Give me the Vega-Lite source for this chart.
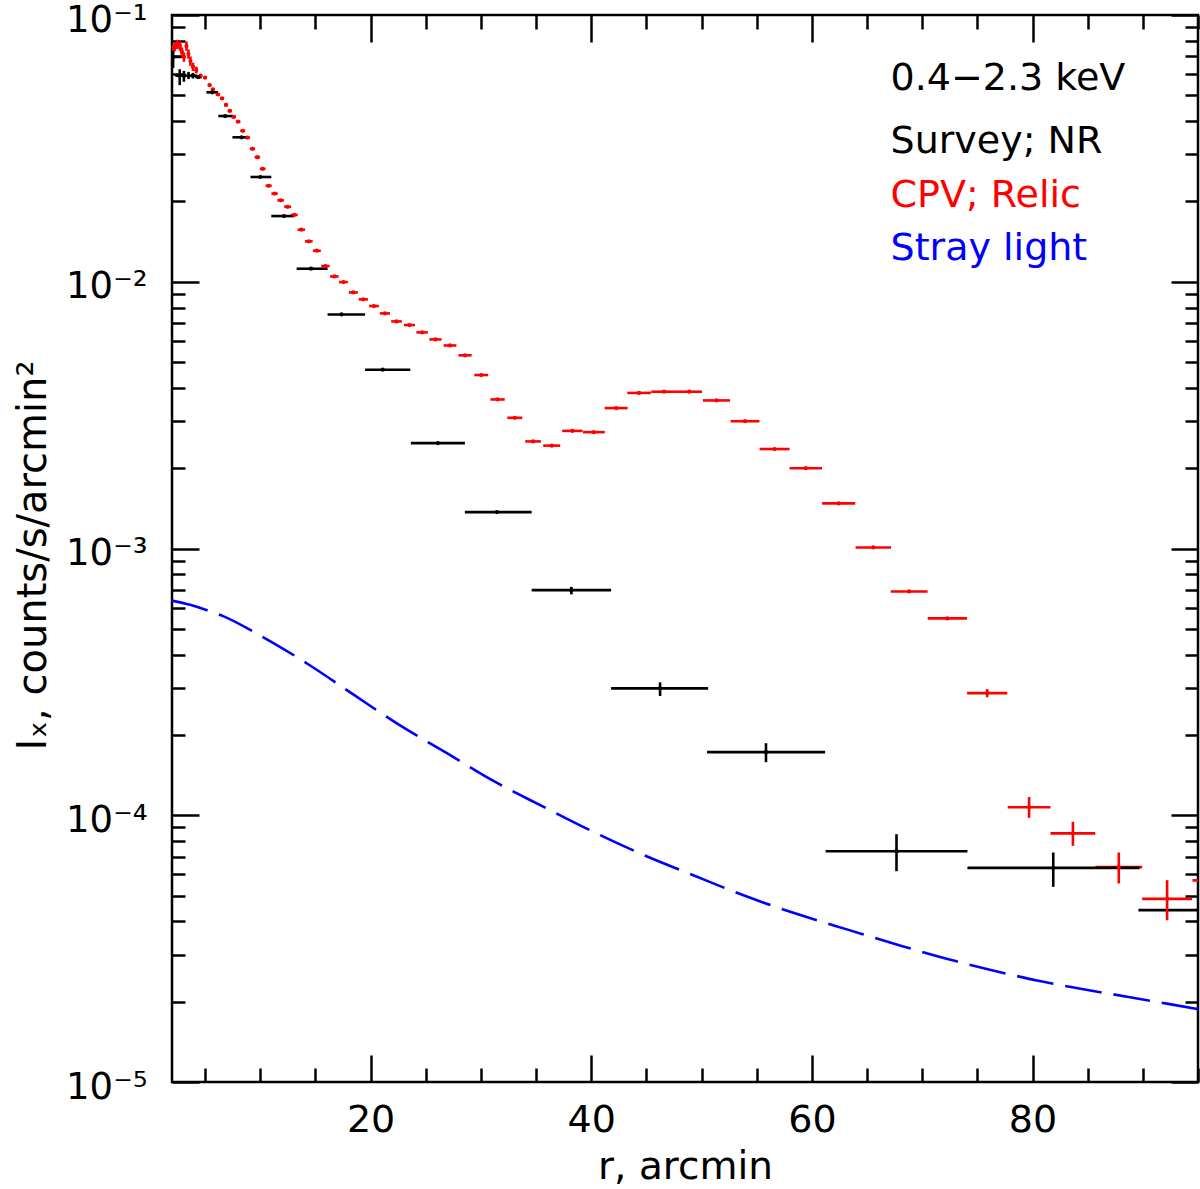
{
  "$schema": "https://vega.github.io/schema/vega-lite/v6.json",
  "width": 1026,
  "height": 1067,
  "autosize": {"type": "none"},
  "padding": {"left": 172, "top": 15, "right": 2, "bottom": 107},
  "background": "white",
  "config": {
    "view": {"stroke": "black", "strokeWidth": 2.5},
    "font": "DejaVu Sans"
  },
  "datasets": {
    "pts": [
      {"s":"CPV; Relic","x":2.0,"xlo":1.88,"xhi":2.12,"y":0.0746,"ylo":0.0716,"yhi":0.0776},
      {"s":"CPV; Relic","x":2.24,"xlo":2.12,"xhi":2.36,"y":0.0761,"ylo":0.0731,"yhi":0.0791},
      {"s":"CPV; Relic","x":2.48,"xlo":2.36,"xhi":2.6,"y":0.0776,"ylo":0.0745,"yhi":0.0807},
      {"s":"CPV; Relic","x":2.72,"xlo":2.6,"xhi":2.84,"y":0.0765,"ylo":0.0734,"yhi":0.0796},
      {"s":"CPV; Relic","x":2.9,"xlo":2.8,"xhi":3.0,"y":0.0727,"ylo":0.0698,"yhi":0.0756},
      {"s":"CPV; Relic","x":3.08,"xlo":3.0,"xhi":3.18,"y":0.0696,"ylo":0.0668,"yhi":0.0724},
      {"s":"CPV; Relic","x":3.31,"xlo":3.2,"xhi":3.42,"y":0.0765,"ylo":0.0734,"yhi":0.0796},
      {"s":"CPV; Relic","x":3.49,"xlo":3.4,"xhi":3.58,"y":0.0714,"ylo":0.0685,"yhi":0.0743},
      {"s":"CPV; Relic","x":3.67,"xlo":3.58,"xhi":3.78,"y":0.0672,"ylo":0.0645,"yhi":0.0699},
      {"s":"CPV; Relic","x":3.9,"xlo":3.78,"xhi":4.02,"y":0.064,"ylo":0.0617,"yhi":0.0663},
      {"s":"CPV; Relic","x":4.2,"xlo":4.06,"xhi":4.34,"y":0.0622,"ylo":0.0604,"yhi":0.064},
      {"s":"CPV; Relic","x":4.59,"xlo":4.45,"xhi":4.73,"y":0.0592},
      {"s":"CPV; Relic","x":5.0,"xlo":4.84,"xhi":5.16,"y":0.0582},
      {"s":"CPV; Relic","x":5.41,"xlo":5.24,"xhi":5.58,"y":0.0546},
      {"s":"CPV; Relic","x":5.7,"xlo":5.53,"xhi":5.87,"y":0.0526},
      {"s":"CPV; Relic","x":6.16,"xlo":5.98,"xhi":6.34,"y":0.0504},
      {"s":"CPV; Relic","x":6.54,"xlo":6.36,"xhi":6.72,"y":0.0487},
      {"s":"CPV; Relic","x":6.9,"xlo":6.72,"xhi":7.08,"y":0.046},
      {"s":"CPV; Relic","x":7.24,"xlo":7.04,"xhi":7.44,"y":0.0437},
      {"s":"CPV; Relic","x":7.6,"xlo":7.4,"xhi":7.8,"y":0.0415},
      {"s":"CPV; Relic","x":7.99,"xlo":7.78,"xhi":8.2,"y":0.0398},
      {"s":"CPV; Relic","x":8.41,"xlo":8.19,"xhi":8.63,"y":0.0368},
      {"s":"CPV; Relic","x":8.84,"xlo":8.61,"xhi":9.07,"y":0.0347},
      {"s":"CPV; Relic","x":9.29,"xlo":9.05,"xhi":9.53,"y":0.0315},
      {"s":"CPV; Relic","x":9.74,"xlo":9.49,"xhi":9.99,"y":0.0293},
      {"s":"CPV; Relic","x":10.22,"xlo":9.96,"xhi":10.48,"y":0.0265},
      {"s":"CPV; Relic","x":10.76,"xlo":10.48,"xhi":11.04,"y":0.0229},
      {"s":"CPV; Relic","x":11.3,"xlo":11.01,"xhi":11.59,"y":0.0214},
      {"s":"CPV; Relic","x":11.85,"xlo":11.55,"xhi":12.15,"y":0.0202},
      {"s":"CPV; Relic","x":12.48,"xlo":12.17,"xhi":12.79,"y":0.0191},
      {"s":"CPV; Relic","x":13.08,"xlo":12.76,"xhi":13.4,"y":0.0178},
      {"s":"CPV; Relic","x":13.72,"xlo":13.38,"xhi":14.06,"y":0.01567},
      {"s":"CPV; Relic","x":14.4,"xlo":14.05,"xhi":14.75,"y":0.01417},
      {"s":"CPV; Relic","x":15.13,"xlo":14.77,"xhi":15.49,"y":0.01307},
      {"s":"CPV; Relic","x":15.91,"xlo":15.53,"xhi":16.29,"y":0.01145},
      {"s":"CPV; Relic","x":16.72,"xlo":16.33,"xhi":17.11,"y":0.01047},
      {"s":"CPV; Relic","x":17.54,"xlo":17.14,"xhi":17.94,"y":0.00997},
      {"s":"CPV; Relic","x":18.44,"xlo":18.03,"xhi":18.85,"y":0.00912},
      {"s":"CPV; Relic","x":19.34,"xlo":18.92,"xhi":19.76,"y":0.00859},
      {"s":"CPV; Relic","x":20.31,"xlo":19.87,"xhi":20.75,"y":0.00811},
      {"s":"CPV; Relic","x":21.3,"xlo":20.84,"xhi":21.76,"y":0.00761},
      {"s":"CPV; Relic","x":22.35,"xlo":21.87,"xhi":22.83,"y":0.0071},
      {"s":"CPV; Relic","x":23.53,"xlo":23.03,"xhi":24.03,"y":0.00688},
      {"s":"CPV; Relic","x":24.67,"xlo":24.15,"xhi":25.19,"y":0.00646},
      {"s":"CPV; Relic","x":25.88,"xlo":25.33,"xhi":26.43,"y":0.00608},
      {"s":"CPV; Relic","x":27.2,"xlo":26.62,"xhi":27.78,"y":0.00577},
      {"s":"CPV; Relic","x":28.56,"xlo":27.96,"xhi":29.16,"y":0.0053},
      {"s":"CPV; Relic","x":30.03,"xlo":29.4,"xhi":30.66,"y":0.00447},
      {"s":"CPV; Relic","x":31.51,"xlo":30.86,"xhi":32.16,"y":0.00362},
      {"s":"CPV; Relic","x":33.07,"xlo":32.39,"xhi":33.75,"y":0.00309},
      {"s":"CPV; Relic","x":34.73,"xlo":34.02,"xhi":35.44,"y":0.00252},
      {"s":"CPV; Relic","x":36.42,"xlo":35.65,"xhi":37.19,"y":0.00243},
      {"s":"CPV; Relic","x":38.29,"xlo":37.37,"xhi":39.21,"y":0.00276},
      {"s":"CPV; Relic","x":40.24,"xlo":39.25,"xhi":41.23,"y":0.00273},
      {"s":"CPV; Relic","x":42.26,"xlo":41.22,"xhi":43.3,"y":0.00336},
      {"s":"CPV; Relic","x":44.34,"xlo":43.27,"xhi":45.41,"y":0.00383},
      {"s":"CPV; Relic","x":46.6,"xlo":45.44,"xhi":47.76,"y":0.00387},
      {"s":"CPV; Relic","x":48.88,"xlo":47.72,"xhi":50.04,"y":0.00387},
      {"s":"CPV; Relic","x":51.35,"xlo":50.12,"xhi":52.58,"y":0.00359},
      {"s":"CPV; Relic","x":53.94,"xlo":52.63,"xhi":55.25,"y":0.003},
      {"s":"CPV; Relic","x":56.62,"xlo":55.26,"xhi":57.98,"y":0.00236},
      {"s":"CPV; Relic","x":59.45,"xlo":57.98,"xhi":60.92,"y":0.002},
      {"s":"CPV; Relic","x":62.43,"xlo":60.93,"xhi":63.93,"y":0.001476},
      {"s":"CPV; Relic","x":65.57,"xlo":63.96,"xhi":67.18,"y":0.001009},
      {"s":"CPV; Relic","x":68.82,"xlo":67.15,"xhi":70.49,"y":0.00069},
      {"s":"CPV; Relic","x":72.28,"xlo":70.5,"xhi":74.06,"y":0.000547},
      {"s":"CPV; Relic","x":75.89,"xlo":74.07,"xhi":77.71,"y":0.000287,"ylo":0.000277,"yhi":0.000297},
      {"s":"CPV; Relic","x":79.69,"xlo":77.75,"xhi":81.63,"y":0.0001072,"ylo":0.0000978,"yhi":0.000117},
      {"s":"CPV; Relic","x":83.66,"xlo":81.63,"xhi":85.69,"y":0.0000855,"ylo":0.0000768,"yhi":0.0000945},
      {"s":"CPV; Relic","x":87.82,"xlo":85.7,"xhi":89.94,"y":0.0000639,"ylo":0.0000555,"yhi":0.0000725},
      {"s":"CPV; Relic","x":92.2,"xlo":89.94,"xhi":94.46,"y":0.0000486,"ylo":0.0000404,"yhi":0.0000571},
      {"s":"CPV; Relic","x":96.7,"xlo":94.5,"xhi":98.9,"y":0.000057},
      {"s":"Survey; NR","x":2.1,"xlo":1.4,"xhi":2.85,"y":0.0696,"ylo":0.0633,"yhi":0.0735},
      {"s":"Survey; NR","x":2.7,"xlo":2.3,"xhi":3.1,"y":0.0592,"ylo":0.0546,"yhi":0.0626},
      {"s":"Survey; NR","x":3.08,"xlo":2.9,"xhi":3.3,"y":0.0592,"ylo":0.0562,"yhi":0.0617},
      {"s":"Survey; NR","x":3.5,"xlo":3.3,"xhi":3.7,"y":0.0592,"ylo":0.0575,"yhi":0.0612},
      {"s":"Survey; NR","x":3.9,"xlo":3.7,"xhi":4.3,"y":0.0592,"ylo":0.0578,"yhi":0.0607},
      {"s":"Survey; NR","x":4.4,"xlo":4.1,"xhi":4.7,"y":0.0585},
      {"s":"Survey; NR","x":5.64,"xlo":5.12,"xhi":6.17,"y":0.0513},
      {"s":"Survey; NR","x":6.82,"xlo":6.2,"xhi":7.52,"y":0.0418},
      {"s":"Survey; NR","x":8.3,"xlo":7.48,"xhi":8.9,"y":0.0348},
      {"s":"Survey; NR","x":10.01,"xlo":9.11,"xhi":11.0,"y":0.0247},
      {"s":"Survey; NR","x":12.15,"xlo":11.0,"xhi":13.1,"y":0.01763},
      {"s":"Survey; NR","x":14.6,"xlo":13.3,"xhi":16.1,"y":0.01119},
      {"s":"Survey; NR","x":17.36,"xlo":16.1,"xhi":19.5,"y":0.00754},
      {"s":"Survey; NR","x":21.1,"xlo":19.5,"xhi":23.6,"y":0.00468},
      {"s":"Survey; NR","x":26.1,"xlo":23.65,"xhi":28.55,"y":0.002484},
      {"s":"Survey; NR","x":31.45,"xlo":28.55,"xhi":34.6,"y":0.001369},
      {"s":"Survey; NR","x":38.2,"xlo":34.6,"xhi":41.8,"y":0.000698,"ylo":0.000673,"yhi":0.000718},
      {"s":"Survey; NR","x":46.24,"xlo":41.8,"xhi":50.6,"y":0.000299,"ylo":0.00028,"yhi":0.000315},
      {"s":"Survey; NR","x":55.84,"xlo":50.5,"xhi":61.2,"y":0.0001724,"ylo":0.0001581,"yhi":0.0001863},
      {"s":"Survey; NR","x":67.67,"xlo":61.25,"xhi":74.1,"y":0.0000733,"ylo":0.0000617,"yhi":0.0000849},
      {"s":"Survey; NR","x":81.88,"xlo":74.1,"xhi":89.7,"y":0.0000635,"ylo":0.0000539,"yhi":0.0000725},
      {"s":"Survey; NR","x":97.0,"xlo":89.6,"xhi":104.0,"y":0.0000441}
    ],
    "stray": [
      {"s":"Stray light","x":2.0,"y":0.000638},
      {"s":"Stray light","x":3.63,"y":0.000615},
      {"s":"Stray light","x":5.59,"y":0.000579},
      {"s":"Stray light","x":6.63,"y":0.000558},
      {"s":"Stray light","x":9.95,"y":0.000473},
      {"s":"Stray light","x":11.0,"y":0.000447},
      {"s":"Stray light","x":14.31,"y":0.000369},
      {"s":"Stray light","x":18.53,"y":0.000282},
      {"s":"Stray light","x":22.6,"y":0.000218},
      {"s":"Stray light","x":26.96,"y":0.0001705},
      {"s":"Stray light","x":31.18,"y":0.0001342},
      {"s":"Stray light","x":35.69,"y":0.0001075},
      {"s":"Stray light","x":40.06,"y":0.0000872},
      {"s":"Stray light","x":44.57,"y":0.0000715},
      {"s":"Stray light","x":49.25,"y":0.0000596},
      {"s":"Stray light","x":53.92,"y":0.0000499},
      {"s":"Stray light","x":58.67,"y":0.0000426},
      {"s":"Stray light","x":63.4,"y":0.0000371},
      {"s":"Stray light","x":68.21,"y":0.0000323},
      {"s":"Stray light","x":73.03,"y":0.0000284},
      {"s":"Stray light","x":77.85,"y":0.00002536},
      {"s":"Stray light","x":80.41,"y":0.000024},
      {"s":"Stray light","x":84.11,"y":0.00002245},
      {"s":"Stray light","x":88.96,"y":0.00002075},
      {"s":"Stray light","x":94.68,"y":0.00001886},
      {"s":"Stray light","x":95.0,"y":0.00001876}
    ],
    "labels": [
      {"t":"0.4−2.3 keV","s":"band","x":67.13,"y":0.0523},
      {"t":"Survey; NR","s":"Survey; NR","x":67.13,"y":0.0303},
      {"t":"CPV; Relic","s":"CPV; Relic","x":67.13,"y":0.0191},
      {"t":"Stray light","s":"Stray light","x":67.13,"y":0.01206}
    ]
  },
  "resolve": {"axis": {"x": "independent", "y": "independent"}},
  "layer": [
    {
      "data": {"name": "pts"},
      "mark": {"type": "rule", "strokeWidth": 2.6, "clip": true},
      "encoding": {
        "x": {
          "field": "xlo", "type": "quantitative",
          "scale": {"domain": [2, 95], "nice": false, "zero": false},
          "axis": {
            "orient": "bottom",
            "values": [5,10,15,20,25,30,35,40,45,50,55,60,65,70,75,80,85,90,95],
            "labelExpr": "datum.value % 20 === 0 ? datum.label : ''",
            "format": "d",
            "tickSize": {"condition": {"test": "datum.value % 20 === 0", "value": -27}, "value": -14},
            "tickWidth": 2.5, "tickColor": "black",
            "domain": false, "grid": false,
            "labelPadding": 46, "labelFontSize": 38, "labelFont": "DejaVu Sans", "labelColor": "black",
            "labelOverlap": false, "labelFlush": false,
            "title": "r, arcmin", "titleFontSize": 39, "titleFont": "DejaVu Sans", "titleFontWeight": "normal",
            "titleColor": "black", "titleX": 513, "titleY": 96, "titleBaseline": "alphabetic", "titleAlign": "center"
          }
        },
        "x2": {"field": "xhi"},
        "y": {
          "field": "y", "type": "quantitative",
          "scale": {"type": "log", "domain": [0.00001, 0.1], "nice": false},
          "axis": {
            "orient": "left",
            "values": [0.00001,0.00002,0.00003,0.00004,0.00005,0.00006,0.00007,0.00008,0.00009,0.0001,0.0002,0.0003,0.0004,0.0005,0.0006,0.0007,0.0008,0.0009,0.001,0.002,0.003,0.004,0.005,0.006,0.007,0.008,0.009,0.01,0.02,0.03,0.04,0.05,0.06,0.07,0.08,0.09,0.1],
            "labelExpr": "datum.value === 0.1 ? '10⁻¹' : datum.value === 0.01 ? '10⁻²' : datum.value === 0.001 ? '10⁻³' : datum.value === 0.0001 ? '10⁻⁴' : datum.value === 0.00001 ? '10⁻⁵' : ''",
            "tickSize": {"condition": {"test": "datum.value === 0.1 || datum.value === 0.01 || datum.value === 0.001 || datum.value === 0.0001 || datum.value === 0.00001", "value": -27}, "value": -13},
            "tickWidth": 2.5, "tickColor": "black",
            "domain": false, "grid": false,
            "labelPadding": 52, "labelFontSize": 37, "labelFont": "DejaVu Sans", "labelColor": "black",
            "labelBaseline": "alphabetic", "labelOffset": 16,
            "labelOverlap": false, "labelFlush": false,
            "title": "Iₓ, counts/s/arcmin²", "titleFontSize": 40, "titleFont": "DejaVu Sans", "titleFontWeight": "normal",
            "titleColor": "black", "titleX": -127, "titleY": 540, "titleAngle": -90, "titleBaseline": "alphabetic", "titleAlign": "center"
          }
        },
        "color": {
          "field": "s", "type": "nominal",
          "scale": {"domain": ["Survey; NR", "CPV; Relic", "Stray light", "band"], "range": ["#000000", "#ff0000", "#0000ff", "#000000"]},
          "legend": null
        }
      }
    },
    {
      "data": {"name": "pts"},
      "transform": [{"filter": "datum.ylo != null"}],
      "mark": {"type": "rule", "strokeWidth": 2.6, "clip": true},
      "encoding": {
        "x": {
          "field": "x", "type": "quantitative",
          "axis": {
            "orient": "top",
            "values": [5,10,15,20,25,30,35,40,45,50,55,60,65,70,75,80,85,90,95],
            "labels": false, "title": null, "domain": false, "grid": false,
            "tickSize": {"condition": {"test": "datum.value % 20 === 0", "value": -27}, "value": -14},
            "tickWidth": 2.5, "tickColor": "black"
          }
        },
        "y": {
          "field": "ylo", "type": "quantitative",
          "axis": {
            "orient": "right",
            "values": [0.00001,0.00002,0.00003,0.00004,0.00005,0.00006,0.00007,0.00008,0.00009,0.0001,0.0002,0.0003,0.0004,0.0005,0.0006,0.0007,0.0008,0.0009,0.001,0.002,0.003,0.004,0.005,0.006,0.007,0.008,0.009,0.01,0.02,0.03,0.04,0.05,0.06,0.07,0.08,0.09,0.1],
            "labels": false, "title": null, "domain": false, "grid": false,
            "tickSize": {"condition": {"test": "datum.value === 0.1 || datum.value === 0.01 || datum.value === 0.001 || datum.value === 0.0001 || datum.value === 0.00001", "value": -27}, "value": -13},
            "tickWidth": 2.5, "tickColor": "black"
          }
        },
        "y2": {"field": "yhi"},
        "color": {"field": "s", "type": "nominal", "legend": null}
      }
    },
    {
      "data": {"name": "pts"},
      "mark": {"type": "circle", "size": 18, "opacity": 1, "clip": true},
      "encoding": {
        "x": {"field": "x", "type": "quantitative", "axis": null},
        "y": {"field": "y", "type": "quantitative", "axis": null},
        "color": {"field": "s", "type": "nominal", "legend": null}
      }
    },
    {
      "data": {"name": "stray"},
      "mark": {"type": "line", "strokeWidth": 2.6, "strokeDash": [37, 12], "interpolate": "monotone", "clip": true},
      "encoding": {
        "x": {"field": "x", "type": "quantitative", "axis": null},
        "y": {"field": "y", "type": "quantitative", "axis": null},
        "color": {"field": "s", "type": "nominal", "legend": null}
      }
    },
    {
      "data": {"name": "labels"},
      "mark": {"type": "text", "align": "left", "baseline": "alphabetic", "fontSize": 38, "font": "DejaVu Sans"},
      "encoding": {
        "x": {"field": "x", "type": "quantitative", "axis": null},
        "y": {"field": "y", "type": "quantitative", "axis": null},
        "text": {"field": "t"},
        "color": {"field": "s", "type": "nominal", "legend": null}
      }
    }
  ]
}
